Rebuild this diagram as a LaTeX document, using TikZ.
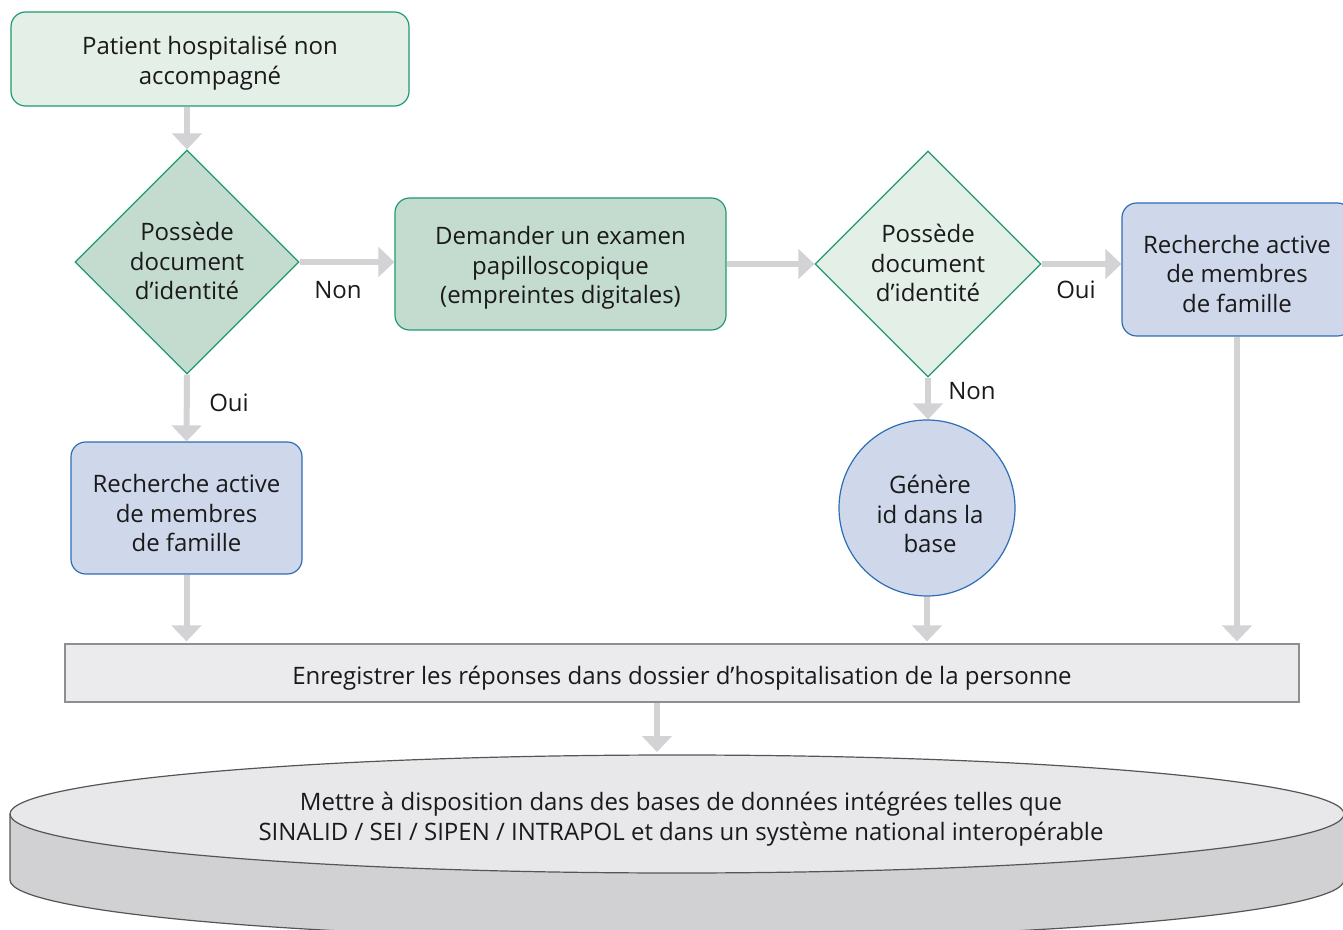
\documentclass[tikz,border=0pt]{standalone}
\usepackage{fontspec}
\setmainfont{Open Sans}
\usetikzlibrary{shapes.geometric,arrows.meta}
\definecolor{lgreen}{HTML}{E4EFE8}
\definecolor{mgreen}{HTML}{C4DCCF}
\definecolor{gstroke}{HTML}{1F9A6F}
\definecolor{lblue}{HTML}{CED8EA}
\definecolor{bstroke}{HTML}{2C6DB5}
\definecolor{arrgray}{HTML}{D3D3D5}
\definecolor{boxgray}{HTML}{EBEBED}
\definecolor{boxstroke}{HTML}{8E8E8E}
\definecolor{cyltop}{HTML}{E8E8EA}
\definecolor{cylside}{HTML}{D1D1D3}
\definecolor{cylstroke}{HTML}{555555}
\definecolor{txt}{HTML}{1A1A1A}
\tikzset{
  base/.style={font=\fontsize{18}{22.2}\selectfont, text=txt, align=center, inner sep=0pt},
  gbox/.style={rectangle, rounded corners=11pt, draw=gstroke, line width=0.9pt},
  bbox/.style={rectangle, rounded corners=11pt, draw=bstroke, fill=lblue, line width=0.9pt},
  dec/.style={diamond, aspect=1, draw=gstroke, line width=0.9pt, minimum width=168pt, minimum height=168pt, inner sep=0pt},
  arr/.style={draw=arrgray, line width=4.5pt, -{Triangle[width=22pt,length=12pt]}},
  lbl/.style={base}
}
\begin{document}
\begin{tikzpicture}[x=0.75pt,y=-0.75pt]
\useasboundingbox (0,0) rectangle (1343,930);
\clip (0,0) rectangle (1343,930);

\node[gbox, fill=lgreen, minimum width=298.5pt, minimum height=70.5pt] (start) at (210,59) {};
\node[base] (startt) at (210,63) {Patient hospitalisé non\\accompagné};
\node[dec, fill=mgreen] (d1) at (187,262) {};
\node[base] (d1t) at (187,261) {Possède\\document\\d’identité};
\node[gbox, fill=mgreen, minimum width=248.25pt, minimum height=99pt] (exam) at (560.5,264) {};
\node[base] (examt) at (560.5,268) {Demander un examen\\papilloscopique\\(empreintes digitales)};
\node[dec, fill=lgreen, minimum width=169.5pt, minimum height=169.5pt] (d2) at (928,264) {};
\node[base] (d2t) at (928,263) {Possède\\document\\d’identité};
\node[bbox, minimum width=172.5pt, minimum height=99.75pt] (rech2) at (1237,269.5) {};
\node[base] (rech2t) at (1237,274) {Recherche active\\de membres\\de famille};
\node[bbox, minimum width=173.25pt, minimum height=99pt] (rech1) at (186.5,508) {};
\node[base] (rech1t) at (186.5,513) {Recherche active\\de membres\\de famille};
\node[circle, draw=bstroke, fill=lblue, line width=0.9pt, minimum size=132pt] (gen) at (927,508) {};
\node[base] (gent) at (930,514) {Génère\\id dans la\\base};
\node[rectangle, draw=boxstroke, fill=boxgray, line width=0.9pt, minimum width=925.5pt, minimum height=43.5pt] (reg) at (682,673) {};
\node[base] (regt) at (682,678) {Enregistrer les réponses dans dossier d’hospitalisation de la personne};

% cylinder
\fill[cylside] (10,814) -- (10,880) arc[start angle=180,end angle=360,x radius=500.25pt,y radius=44.25pt] -- (1344,814) -- cycle;
\draw[cylstroke, line width=0.9pt] (10,814) -- (10,880) arc[start angle=180,end angle=360,x radius=500.25pt,y radius=44.25pt] -- (1344,814);
\filldraw[fill=cyltop, draw=cylstroke, line width=0.9pt] (677,814) ellipse[x radius=500.25pt, y radius=44.25pt];
\node[base] (db) at (681,819) {Mettre à disposition dans des bases de données intégrées telles que\\SINALID / SEI / SIPEN / INTRAPOL et dans un système national interopérable};
\coordinate (dbtop) at (657,752);

% arrows
\draw[arr] (d1.north |- start.south) -- (d1.north);
\draw[arr] (d1.east) -- (d1.east -| exam.west);
\draw[arr] (exam.east |- d2.west) -- (d2.west);
\draw[arr] (d2.east) -- (d2.east -| rech2.west);
\draw[arr] (d1.south) -- (rech1.north);
\draw[arr] (d2.south) -- (d2.south |- gen.north);
\draw[arr] (rech1.south) -- ([yshift=1.5pt]rech1.south |- reg.north);
\draw[arr] (gen.south) -- ([yshift=1.5pt]gen.south |- reg.north);
\draw[arr] (rech2.south) -- ([yshift=1.5pt]rech2.south |- reg.north);
\draw[arr] (dbtop |- reg.south) -- (dbtop);

% labels
\node[lbl] (lnon1) at (338,290) {Non};
\node[lbl] (loui1) at (229,403) {Oui};
\node[lbl] (lnon2) at (972,391) {Non};
\node[lbl] (loui2) at (1076,290) {Oui};
\end{tikzpicture}
\end{document}
